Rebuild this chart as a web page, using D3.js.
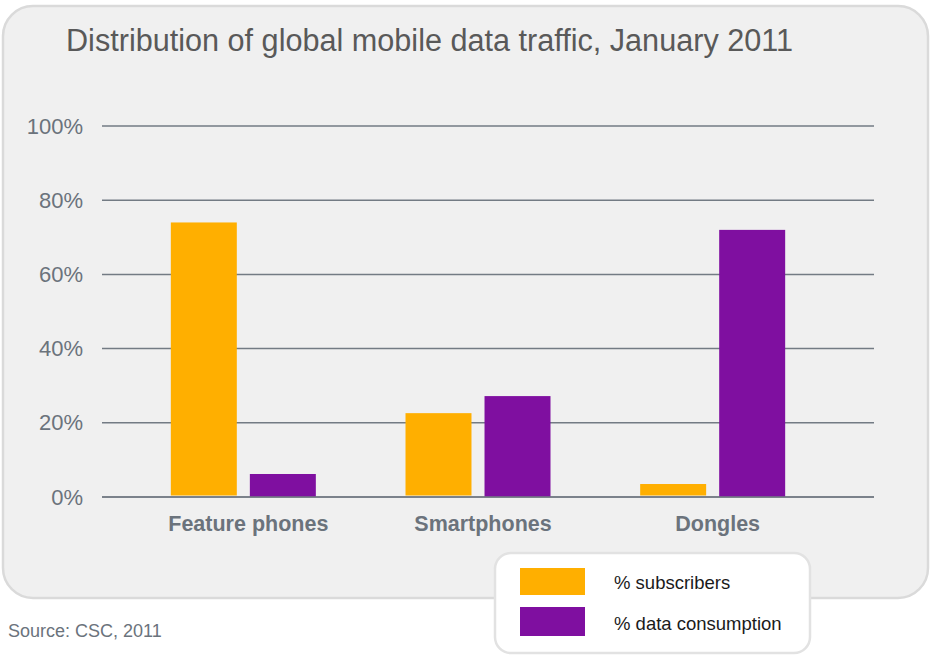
<!DOCTYPE html>
<html>
<head>
<meta charset="utf-8">
<script src="https://cdn.jsdelivr.net/npm/d3@7"></script>
<style>
  html, body { margin: 0; padding: 0; background: #fff; }
  svg { display: block; font-family: "Liberation Sans", Arial, sans-serif; }
</style>
</head>
<body>
<div class="js-chart"></div>
<script>
(function() {
  'use strict';

  /* ------------------------------------------------------------ *\
      Data
  \* ------------------------------------------------------------ */

  var categories = ['Feature phones', 'Smartphones', 'Dongles'];
  var seriesNames = ['% subscribers', '% data consumption'];
  var subscribers = [0.740, 0.226, 0.035];
  var dataConsumption = [0.062, 0.272, 0.720];
  var tickValues = [0, 0.2, 0.4, 0.6, 0.8, 1];
  var titleText = 'Distribution of global mobile data traffic, January 2011';
  var sourceText = 'Source: CSC, 2011';

  var seriesColours = ['#ffaf00', '#7f0fa0'];

  /* ------------------------------------------------------------ *\
      Layout
  \* ------------------------------------------------------------ */

  var width = 932;
  var height = 655;
  var gridLeft = 102;
  var gridRight = 874;

  var svg = d3.select('.js-chart')
    .append('svg')
    .attr('width', width)
    .attr('height', height);

  // grey rounded panel
  svg.append('rect')
    .attr('x', 3)
    .attr('y', 6)
    .attr('width', 925)
    .attr('height', 592)
    .attr('rx', 30)
    .attr('ry', 30)
    .attr('fill', '#f0f0f0')
    .attr('stroke', '#dadada')
    .attr('stroke-width', 2.5);

  svg.append('text')
    .attr('x', 66)
    .attr('y', 51)
    .attr('font-size', 31)
    .attr('fill', '#595959')
    .attr('textLength', 727)
    .attr('lengthAdjust', 'spacingAndGlyphs')
    .text(titleText);

  /* ------------------------------------------------------------ *\
      Scales
  \* ------------------------------------------------------------ */

  var y = d3.scaleLinear()
    .domain([0, 1])
    .range([497, 126]);

  var x0 = d3.scaleBand()
    .domain(categories)
    .range([126, 830]);

  var x1 = d3.scaleBand()
    .domain(seriesNames)
    .range([-72.5, 72.5])
    .paddingInner(0.165);

  /* ------------------------------------------------------------ *\
      Grid and y axis
  \* ------------------------------------------------------------ */

  var yAxis = d3.axisLeft(y)
    .tickValues(tickValues)
    .tickSize(0)
    .tickPadding(19)
    .tickFormat(d3.format('.0%'));

  var yAxisG = svg.append('g')
    .attr('transform', 'translate(' + gridLeft + ',0)')
    .call(yAxis);

  yAxisG.select('.domain').remove();
  yAxisG.selectAll('text')
    .attr('font-size', 22)
    .attr('fill', '#6b737c')
    .attr('font-family', '"Liberation Sans", Arial, sans-serif');

  svg.append('g')
    .selectAll('line')
    .data(tickValues)
    .join('line')
    .attr('x1', gridLeft)
    .attr('x2', gridRight)
    .attr('y1', function(d) { return y(d); })
    .attr('y2', function(d) { return y(d); })
    .attr('stroke', '#737b84')
    .attr('stroke-width', 1.5);

  /* ------------------------------------------------------------ *\
      Bars
  \* ------------------------------------------------------------ */

  var rows = categories.map(function(c, i) {
    return { category: c, values: [subscribers[i], dataConsumption[i]] };
  });

  var groups = svg.append('g')
    .selectAll('g')
    .data(rows)
    .join('g')
    .attr('transform', function(d) {
      return 'translate(' + (x0(d.category) + x0.bandwidth() / 2) + ',0)';
    });

  groups.selectAll('rect')
    .data(function(d) {
      return d.values.map(function(v, i) { return { name: seriesNames[i], value: v, idx: i }; });
    })
    .join('rect')
    .attr('x', function(d) { return x1(d.name); })
    .attr('y', function(d) { return y(d.value); })
    .attr('width', x1.bandwidth())
    .attr('height', function(d) { return y(0) - y(d.value) - (d.idx === 0 ? 1.5 : 0); })
    .attr('fill', function(d) { return seriesColours[d.idx]; });

  // re-draw baseline above the bars
  svg.append('line')
    .attr('x1', gridLeft)
    .attr('x2', gridRight)
    .attr('y1', y(0))
    .attr('y2', y(0))
    .attr('stroke', '#737b84')
    .attr('stroke-width', 1.5);

  /* ------------------------------------------------------------ *\
      Category labels
  \* ------------------------------------------------------------ */

  svg.append('g')
    .selectAll('text')
    .data(categories)
    .join('text')
    .attr('x', function(d) { return x0(d) + x0.bandwidth() / 2 + 5; })
    .attr('y', 531)
    .attr('text-anchor', 'middle')
    .attr('font-size', 21.5)
    .attr('font-weight', 'bold')
    .attr('fill', '#6b737c')
    .text(function(d) { return d; });

  /* ------------------------------------------------------------ *\
      Legend
  \* ------------------------------------------------------------ */

  svg.append('rect')
    .attr('x', 495)
    .attr('y', 553)
    .attr('width', 315)
    .attr('height', 100)
    .attr('rx', 16)
    .attr('ry', 16)
    .attr('fill', '#ffffff')
    .attr('stroke', '#e2e2e2')
    .attr('stroke-width', 2.5);

  var legendItems = svg.append('g')
    .selectAll('g')
    .data(seriesNames)
    .join('g')
    .attr('transform', function(d, i) { return 'translate(520,' + (568 + i * 39) + ')'; });

  legendItems.append('rect')
    .attr('width', 65)
    .attr('height', function(d, i) { return i === 0 ? 27 : 29; })
    .attr('fill', function(d, i) { return seriesColours[i]; });

  legendItems.append('text')
    .attr('x', 94)
    .attr('y', function(d, i) { return i === 0 ? 21 : 23; })
    .attr('font-size', 18.5)
    .attr('fill', '#1a1a1a')
    .text(function(d) { return d; });

  /* ------------------------------------------------------------ *\
      Source
  \* ------------------------------------------------------------ */

  svg.append('text')
    .attr('x', 8)
    .attr('y', 637)
    .attr('font-size', 18)
    .attr('fill', '#6b737c')
    .text(sourceText);
})();
</script>
</body>
</html>
